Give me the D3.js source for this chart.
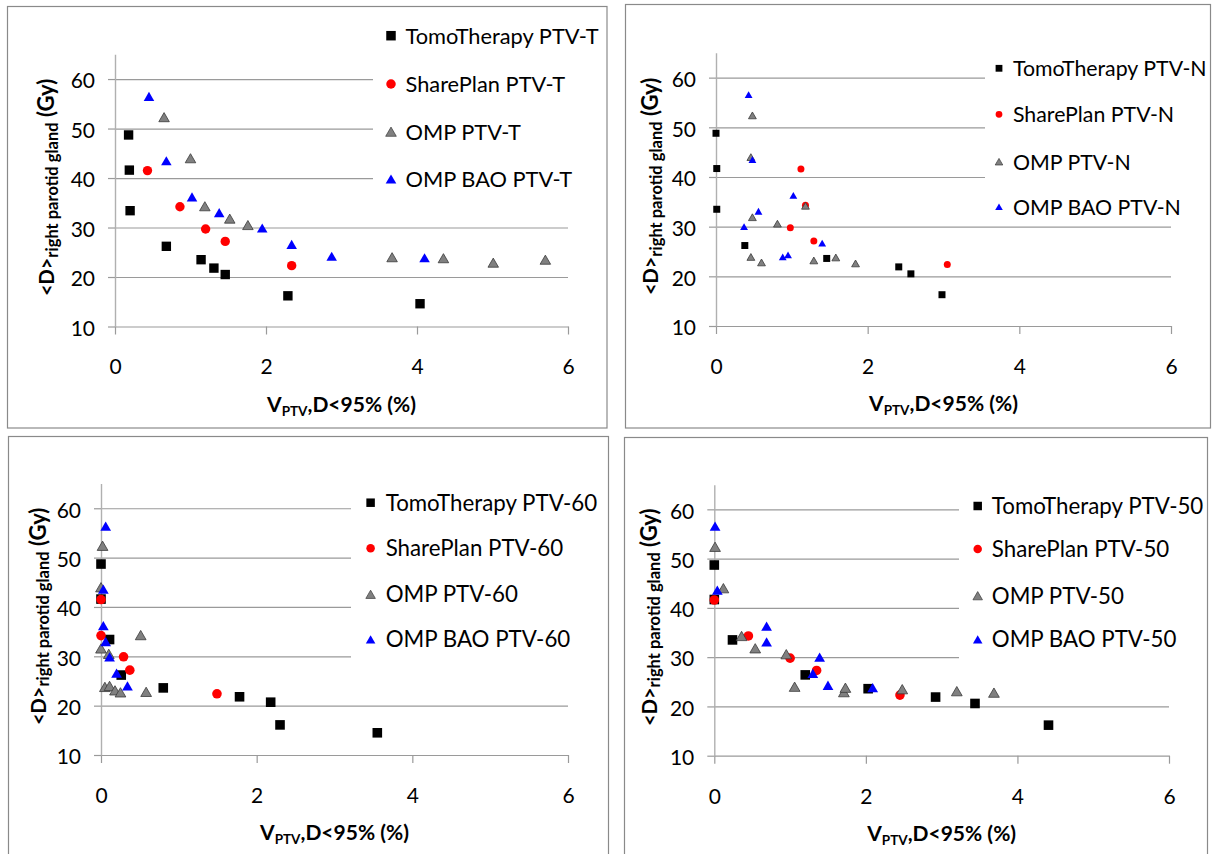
<!DOCTYPE html>
<html>
<head>
<meta charset="utf-8">
<script src="https://cdn.jsdelivr.net/npm/d3@7"></script>
<style>
  html, body { margin: 0; padding: 0; background: #fff; }
  svg { display: block; font-family: Lato, "Open Sans", sans-serif; }
</style>
</head>
<body>
<svg id="chart" width="1212" height="854"></svg>
<script>
// Axis ticks shared by all four panels
const xTicks = [0, 2, 4, 6];
const yTicks = [10, 20, 30, 40, 50, 60];
const xDomain = [0, 6];
const yDomain = [10, 65];

const seriesNames = ["TomoTherapy", "SharePlan", "OMP", "OMP BAO"];
const targets = ["PTV-T", "PTV-N", "PTV-60", "PTV-50"];

// PTV-T
const tomoT_x  = [0.18, 0.19, 0.20, 0.68, 1.14, 1.31, 1.46, 2.29, 4.04];
const tomoT_y  = [48.7, 41.6, 33.4, 26.2, 23.5, 21.8, 20.5, 16.2, 14.6];
const shareT_x = [0.43, 0.86, 1.20, 1.46, 2.34];
const shareT_y = [41.5, 34.2, 29.7, 27.2, 22.3];
const ompT_x   = [0.65, 1.00, 1.19, 1.52, 1.76, 3.67, 4.35, 5.01, 5.70];
const ompT_y   = [52.3, 44.0, 34.3, 31.8, 30.5, 24.0, 23.8, 22.9, 23.5];
const baoT_x   = [0.45, 0.68, 1.02, 1.38, 1.95, 2.34, 2.87, 4.10];
const baoT_y   = [56.5, 43.5, 36.2, 33.0, 29.9, 26.6, 24.2, 23.9];

// PTV-N
const tomoN_x  = [0.00, 0.01, 0.01, 0.38, 1.46, 2.41, 2.57, 2.98];
const tomoN_y  = [48.8, 41.7, 33.5, 26.2, 23.6, 21.9, 20.5, 16.3];
const shareN_x = [1.12, 1.18, 0.98, 1.29, 3.05];
const shareN_y = [41.6, 34.3, 29.8, 27.1, 22.4];
const ompN_x   = [0.48, 0.46, 1.18, 0.48, 0.81, 0.46, 0.60, 1.29, 1.58, 1.84];
const ompN_y   = [52.4, 44.0, 34.2, 31.9, 30.6, 23.9, 22.8, 23.2, 23.8, 22.6];
const baoN_x   = [0.43, 0.48, 1.02, 0.56, 0.37, 1.40, 0.88, 0.95];
const baoN_y   = [56.6, 43.5, 36.3, 33.1, 30.0, 26.7, 23.9, 24.3];

// PTV-60
const tomo60_x  = [0.00, 0.00, 0.11, 0.26, 0.80, 1.78, 2.18, 2.30, 3.55];
const tomo60_y  = [48.7, 41.6, 33.4, 26.2, 23.6, 21.8, 20.7, 16.1, 14.5];
const share60_x = [0.00, 0.00, 0.29, 0.37, 1.49];
const share60_y = [41.5, 34.2, 29.9, 27.2, 22.4];
const omp60_x   = [0.02, 0.00, 0.51, 0.00, 0.10, 0.05, 0.11, 0.18, 0.25, 0.58];
const omp60_y   = [52.4, 44.0, 34.3, 31.6, 30.5, 23.8, 24.0, 23.1, 22.7, 22.8];
const bao60_x   = [0.06, 0.03, 0.03, 0.06, 0.11, 0.20, 0.34];
const bao60_y   = [56.4, 43.6, 36.2, 33.0, 29.9, 26.6, 24.0];

// PTV-50
const tomo50_x  = [0.00, 0.00, 0.24, 1.20, 2.03, 2.92, 3.44, 4.41];
const tomo50_y  = [48.7, 41.7, 33.5, 26.4, 23.6, 21.9, 20.6, 16.2];
const share50_x = [0.00, 0.45, 1.00, 1.35, 2.45];
const share50_y = [41.6, 34.3, 29.8, 27.3, 22.3];
const omp50_x   = [0.01, 0.12, 0.36, 0.54, 0.95, 1.06, 1.71, 1.73, 2.48, 3.20, 3.69];
const omp50_y   = [52.4, 44.0, 34.3, 31.8, 30.6, 24.0, 22.9, 23.8, 23.5, 23.1, 22.8];
const bao50_x   = [0.01, 0.04, 0.69, 0.69, 1.39, 1.30, 1.50, 2.09];
const bao50_y   = [56.6, 43.6, 36.3, 33.1, 30.0, 26.7, 24.3, 23.8];

const panelData = [
  [[tomoT_x, tomoT_y], [shareT_x, shareT_y], [ompT_x, ompT_y], [baoT_x, baoT_y]],
  [[tomoN_x, tomoN_y], [shareN_x, shareN_y], [ompN_x, ompN_y], [baoN_x, baoN_y]],
  [[tomo60_x, tomo60_y], [share60_x, share60_y], [omp60_x, omp60_y], [bao60_x, bao60_y]],
  [[tomo50_x, tomo50_y], [share50_x, share50_y], [omp50_x, omp50_y], [bao50_x, bao50_y]]
];

// Marker styles per series
const styles = [
  { type: "square",   fill: "#000000", stroke: "none" },
  { type: "circle",   fill: "#ff0000", stroke: "none" },
  { type: "triangle", fill: "#808080", stroke: "#3a3a3a" },
  { type: "triangle", fill: "#0000ff", stroke: "none" }
];

// Panel placement on the page
const layouts = [
  { frame: [7.5, 6.5, 599.5, 421.5], left: 115, right: 568, top: 54.3, bottom: 326.5,
    legX: 391, legTextX: 405.5, legRows: [35.7, 84, 131.7, 179], boxLeft: 373, boxBottom: 203,
    legFont: 21.8, yTitleX: 54, mark: 9.4, legMark: 9.5 },
  { frame: [625.5, 4.5, 585, 423.5], left: 716, right: 1171, top: 52.8, bottom: 326,
    legX: 999, legTextX: 1013, legRows: [68.3, 114.3, 161.7, 206.7], boxLeft: 985, boxBottom: 223,
    legFont: 21.3, yTitleX: 658, mark: 7, legMark: 6.8 },
  { frame: [8.5, 436.5, 600, 430], left: 101, right: 568, top: 483.6, bottom: 755,
    legX: 370.6, legTextX: 385.7, legRows: [502.7, 548.3, 594.3, 639.3], boxLeft: 351, boxBottom: 668,
    legFont: 22.3, yTitleX: 45.5, mark: 9.6, legMark: 8.5 },
  { frame: [624.5, 437.5, 583, 430], left: 714.3, right: 1169, top: 484.7, bottom: 755.7,
    legX: 977.7, legTextX: 991.8, legRows: [506, 549, 595.7, 639.3], boxLeft: 959, boxBottom: 668,
    legFont: 22.3, yTitleX: 656.6, mark: 9.6, legMark: 8.5 }
];

const svg = d3.select("#chart");

function markerPath(type, s) {
  if (type === "square") return d3.symbol(d3.symbolSquare, s * s)();
  if (type === "circle") return d3.symbol(d3.symbolCircle, Math.PI * (s / 2) * (s / 2))();
  // equilateral triangle with side ~ 1.1*s
  const side = s * 1.12;
  return d3.symbol(d3.symbolTriangle, Math.sqrt(3) / 4 * side * side)();
}
function markerShift(type, s) {
  if (type !== "triangle") return 0;
  const side = s * 1.12;
  return side / (2 * Math.sqrt(3)) / 2; // move centroid so the box centre sits on the point
}

layouts.forEach((L, p) => {
  const g = svg.append("g");
  const x = d3.scaleLinear(xDomain, [L.left, L.right]);
  const y = d3.scaleLinear(yDomain, [L.bottom, L.top]);
  const w = L.right - L.left;

  // horizontal gridlines
  const grid = g.append("g").attr("transform", `translate(${L.left},0)`)
    .call(d3.axisLeft(y).tickValues(yTicks.slice(1)).tickSize(-w).tickFormat(""));
  grid.select(".domain").remove();
  grid.selectAll("line").attr("stroke", "#9a9a9a").attr("stroke-width", 1.2);

  // legend background hides the grid behind it
  g.append("rect")
    .attr("x", L.boxLeft).attr("y", L.frame[1] + 1)
    .attr("width", L.frame[0] + L.frame[2] - L.boxLeft - 2)
    .attr("height", L.boxBottom - L.frame[1] - 1)
    .attr("fill", "#fff");

  // x axis
  const ax = g.append("g").attr("transform", `translate(0,${L.bottom})`)
    .call(d3.axisBottom(x).tickValues(xTicks).tickFormat(d3.format("d"))
      .tickSize(8).tickSizeOuter(0).tickPadding(25));
  ax.select(".domain").attr("stroke", "#9a9a9a").attr("stroke-width", 1.2);
  ax.selectAll("line").attr("stroke", "#9a9a9a").attr("stroke-width", 1.2);
  ax.selectAll("text").attr("font-size", 21).attr("fill", "#000")
    .attr("font-family", "Lato, sans-serif");

  // y axis
  const ay = g.append("g").attr("transform", `translate(${L.left},0)`)
    .call(d3.axisLeft(y).tickValues(yTicks).tickFormat(d3.format("d"))
      .tickSize(7).tickSizeOuter(0).tickPadding(13));
  ay.select(".domain").attr("stroke", "#b0b0b0").attr("stroke-width", 1.4);
  ay.selectAll("line").attr("stroke", "#9a9a9a").attr("stroke-width", 1.2);
  ay.selectAll("text").attr("font-size", 21).attr("fill", "#000").attr("dy", "0.42em")
    .attr("font-family", "Lato, sans-serif");

  // data markers, drawn series by series
  panelData[p].forEach(([xs, ys], si) => {
    const st = styles[si];
    const pts = xs.map((v, i) => [v, ys[i]]);
    const dy = markerShift(st.type, L.mark);
    g.append("g").selectAll("path").data(pts).join("path")
      .attr("d", markerPath(st.type, L.mark))
      .attr("transform", d => `translate(${x(d[0])},${y(d[1]) + dy})`)
      .attr("fill", st.fill)
      .attr("stroke", st.stroke)
      .attr("stroke-width", 0.8);
  });

  // legend
  seriesNames.forEach((name, si) => {
    const st = styles[si];
    const ry = L.legRows[si];
    g.append("path")
      .attr("d", markerPath(st.type, L.legMark))
      .attr("transform", `translate(${L.legX},${ry + markerShift(st.type, L.legMark)})`)
      .attr("fill", st.fill).attr("stroke", st.stroke).attr("stroke-width", 0.7);
    g.append("text")
      .attr("x", L.legTextX).attr("y", ry + 8)
      .attr("font-size", L.legFont).attr("fill", "#000")
      .text(`${name} ${targets[p]}`);
  });

  // x axis title
  const xt = g.append("text")
    .attr("x", (L.left + L.right) / 2).attr("y", L.bottom + 85)
    .attr("text-anchor", "middle").attr("font-weight", "bold").attr("font-size", 21);
  xt.append("tspan").text("V");
  xt.append("tspan").attr("font-size", 13.5).attr("dy", 4).text("PTV");
  xt.append("tspan").attr("dy", -4).text(",D<95% (%)");

  // y axis title
  const yt = g.append("text")
    .attr("transform", `translate(${L.yTitleX},${(L.top + L.bottom) / 2 - 3}) rotate(-90)`)
    .attr("text-anchor", "middle").attr("font-weight", "bold").attr("font-size", 20);
  yt.append("tspan").text("<D>");
  yt.append("tspan").attr("font-size", 16.5).attr("dy", 3.5).text("right parotid gland");
  yt.append("tspan").attr("font-size", 22).attr("dy", -3.5).text(" (Gy)");

  // panel frame
  g.append("rect")
    .attr("x", L.frame[0]).attr("y", L.frame[1])
    .attr("width", L.frame[2]).attr("height", L.frame[3])
    .attr("fill", "none").attr("stroke", "#8a8a8a").attr("stroke-width", 1.2);
});
</script>
</body>
</html>
